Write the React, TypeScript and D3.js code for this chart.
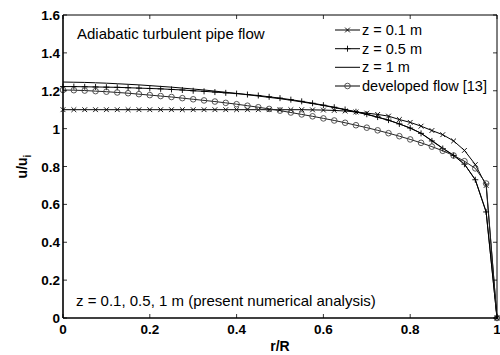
import React from "react";
import * as d3 from "d3";

const rValues = [0, 0.025, 0.05, 0.075, 0.1, 0.125, 0.15, 0.175, 0.2, 0.225, 0.25, 0.275, 0.3, 0.325, 0.35, 0.375, 0.4, 0.425, 0.45, 0.475, 0.5, 0.525, 0.55, 0.575, 0.6, 0.625, 0.65, 0.675, 0.7, 0.725, 0.75, 0.775, 0.8, 0.825, 0.85, 0.875, 0.9, 0.925, 0.95, 0.975, 1];

const uZ01 = [1.1, 1.1, 1.1, 1.1, 1.1, 1.1, 1.1, 1.1, 1.1, 1.1, 1.1, 1.1, 1.1, 1.1, 1.1, 1.1, 1.1, 1.1, 1.1, 1.1, 1.1, 1.1, 1.1, 1.099, 1.098, 1.096, 1.093, 1.088, 1.082, 1.075, 1.066, 1.048, 1.033, 1.013, 0.99, 0.968, 0.935, 0.885, 0.81, 0.7, 0];

const uZ05 = [1.222, 1.222, 1.221, 1.22, 1.219, 1.218, 1.216, 1.214, 1.212, 1.21, 1.207, 1.204, 1.2, 1.197, 1.193, 1.189, 1.185, 1.18, 1.175, 1.168, 1.161, 1.153, 1.144, 1.134, 1.124, 1.113, 1.101, 1.089, 1.076, 1.061, 1.045, 1.025, 1.003, 0.975, 0.935, 0.895, 0.858, 0.812, 0.73, 0.56, 0];

const uZ1 = [1.246, 1.245, 1.244, 1.242, 1.24, 1.237, 1.234, 1.231, 1.227, 1.223, 1.219, 1.214, 1.209, 1.204, 1.198, 1.192, 1.186, 1.179, 1.172, 1.165, 1.158, 1.15, 1.141, 1.132, 1.122, 1.111, 1.1, 1.088, 1.075, 1.06, 1.044, 1.025, 1.003, 0.976, 0.937, 0.897, 0.86, 0.813, 0.73, 0.56, 0];

const uDeveloped = [1.204, 1.203, 1.201, 1.198, 1.195, 1.191, 1.187, 1.182, 1.177, 1.172, 1.167, 1.161, 1.155, 1.149, 1.143, 1.136, 1.129, 1.121, 1.113, 1.104, 1.095, 1.085, 1.075, 1.065, 1.054, 1.043, 1.031, 1.018, 1.005, 0.991, 0.976, 0.96, 0.943, 0.925, 0.905, 0.883, 0.858, 0.828, 0.79, 0.71, 0];

const xTicks = [0, 0.2, 0.4, 0.6, 0.8, 1];
const yTicks = [0, 0.2, 0.4, 0.6, 0.8, 1, 1.2, 1.4, 1.6];
const legendLabels = ["z = 0.1 m", "z = 0.5 m", "z = 1 m", "developed flow [13]"];
const markerTypes = ["x", "plus", "none", "circle"];

const W = 500, H = 355;
const L = 63, R = 497, T = 15, B = 318;

const x = d3.scaleLinear().domain([0, 1]).range([L, R]);
const y = d3.scaleLinear().domain([0, 1.6]).range([B, T]);

const fmt = (v: number) => (v === 0 || v === 1 ? String(v) : String(v));

function Marker({ type, cx, cy }: { type: string; cx: number; cy: number }) {
  if (type === "x") {
    const s = 2.4;
    return (
      <path d={`M${cx - s},${cy - s}L${cx + s},${cy + s}M${cx - s},${cy + s}L${cx + s},${cy - s}`} stroke="#000" strokeWidth={0.9} fill="none" />
    );
  }
  if (type === "plus") {
    const s = 3;
    return (
      <path d={`M${cx - s},${cy}L${cx + s},${cy}M${cx},${cy - s}L${cx},${cy + s}`} stroke="#000" strokeWidth={0.9} fill="none" />
    );
  }
  if (type === "circle") {
    return <circle cx={cx} cy={cy} r={2.8} stroke="#444" strokeWidth={0.9} fill="none" />;
  }
  return null;
}

export default function App() {
  const series = [uZ01, uZ05, uZ1, uDeveloped];
  const line = d3
    .line<number>()
    .x((_, i) => x(rValues[i]))
    .y((d) => y(d));

  const legendRows = [30, 48.7, 67.3, 86];

  return (
    <svg width={W} height={H} style={{ position: "absolute", left: 0, top: 0, background: "#fff" }} fontFamily="Arial, 'Liberation Sans', sans-serif">
      <rect x={0} y={0} width={W} height={H} fill="#fff" />
      {/* series lines */}
      {series.map((s, si) => (
        <path key={si} d={line(s) || ""} fill="none" stroke={si === 3 ? "#222" : "#000"} strokeWidth={1} />
      ))}
      {/* markers */}
      {series.map((s, si) =>
        s.map((v, i) => <Marker key={`${si}-${i}`} type={markerTypes[si]} cx={x(rValues[i])} cy={y(v)} />)
      )}
      {/* frame */}
      <line x1={L} x2={R} y1={T} y2={T} stroke="#000" strokeWidth={1} />
      <line x1={R} x2={R} y1={T} y2={B} stroke="#000" strokeWidth={1} />
      <line x1={L} x2={L} y1={T} y2={B} stroke="#000" strokeWidth={1.6} />
      <line x1={L} x2={R} y1={B} y2={B} stroke="#000" strokeWidth={1.6} />
      {/* x ticks */}
      {xTicks.map((t) => (
        <g key={`xt${t}`}>
          <line x1={x(t)} x2={x(t)} y1={B} y2={B - 4} stroke="#000" strokeWidth={0.8} />
          <line x1={x(t)} x2={x(t)} y1={T} y2={T + 4} stroke="#000" strokeWidth={0.8} />
          <text x={x(t)} y={334} textAnchor="middle" fontWeight="bold" fontSize={13.5}>
            {fmt(t)}
          </text>
        </g>
      ))}
      {/* y ticks */}
      {yTicks.map((t) => (
        <g key={`yt${t}`}>
          <line x1={L} x2={L + 4} y1={y(t)} y2={y(t)} stroke="#000" strokeWidth={0.8} />
          <line x1={R} x2={R - 4} y1={y(t)} y2={y(t)} stroke="#000" strokeWidth={0.8} />
          <text x={60} y={y(t) + 5} textAnchor="end" fontWeight="bold" fontSize={13.5}>
            {fmt(t)}
          </text>
        </g>
      ))}
      {/* axis labels */}
      <text x={(L + R) / 2} y={351} textAnchor="middle" fontWeight="bold" fontSize={14}>
        r/R
      </text>
      <text transform={`translate(27,${(T + B) / 2}) rotate(-90)`} textAnchor="middle" fontWeight="bold" fontSize={14}>
        u/u<tspan fontSize={10} dy={4}>i</tspan>
      </text>
      {/* annotations */}
      <text x={77} y={39} fontSize={15}>
        Adiabatic turbulent pipe flow
      </text>
      <text x={76} y={306} fontSize={15}>
        z = 0.1, 0.5, 1 m (present numerical analysis)
      </text>
      {/* legend */}
      {legendLabels.map((lab, i) => (
        <g key={lab}>
          <line x1={335} x2={360} y1={legendRows[i]} y2={legendRows[i]} stroke="#000" strokeWidth={1} />
          <Marker type={markerTypes[i]} cx={347.5} cy={legendRows[i]} />
          <text x={362} y={legendRows[i] + 5} fontSize={14.5}>
            {lab}
          </text>
        </g>
      ))}
    </svg>
  );
}
